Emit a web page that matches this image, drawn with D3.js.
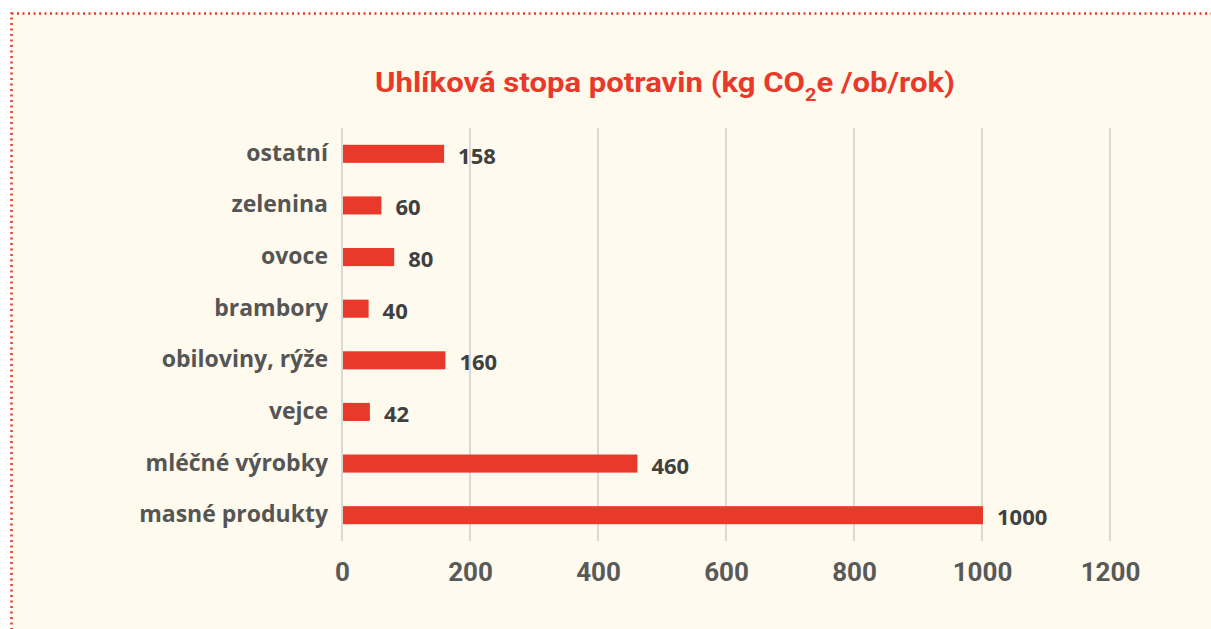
<!DOCTYPE html>
<html>
<head>
<meta charset="utf-8">
<script src="https://cdn.jsdelivr.net/npm/d3@7"></script>
<style>
  html, body { margin: 0; padding: 0; background: #fff; }
</style>
</head>
<body>
<div id="chart"></div>
<script>
const categories = ["ostatní", "zelenina", "ovoce", "brambory", "obiloviny, rýže", "vejce", "mléčné výrobky", "masné produkty"];
const values = [158, 60, 80, 40, 160, 42, 460, 1000];
const xTicks = [0, 200, 400, 600, 800, 1000, 1200];

const W = 1211, H = 629;
const margin = { top: 128, left: 342, right: 101, bottom: 88 };
const height = H - margin.top - margin.bottom;

const svg = d3.select("#chart").append("svg")
  .attr("width", W).attr("height", H);

// cream panel with dotted red border
svg.append("rect")
  .attr("x", 11.5).attr("y", 13.5)
  .attr("width", W).attr("height", H)
  .attr("fill", "#fffaee")
  .attr("stroke", "#e8392a")
  .attr("stroke-width", 2.5)
  .attr("stroke-dasharray", "2,3.5");

const title = svg.append("text")
  .attr("x", 665).attr("y", 92)
  .attr("text-anchor", "middle")
  .style("font-family", "Roboto")
  .style("font-weight", 700)
  .style("font-size", "28px")
  .style("fill", "#e8392a")
  .attr("textLength", 580)
  .attr("lengthAdjust", "spacingAndGlyphs");
title.append("tspan").text("Uhlíková stopa potravin (kg CO");
title.append("tspan").attr("dy", 9).style("font-size", "18px").text("2");
title.append("tspan").attr("dy", -9).text("e /ob/rok)");

const g = svg.append("g").attr("transform", `translate(${margin.left},${margin.top})`);

const x = d3.scaleLinear().domain([0, 1200]).range([0, 768]);
const y = d3.scaleBand().domain(categories).range([0, 413]).paddingInner(0.65).paddingOuter(0.325);

g.append("g").selectAll("line")
  .data(xTicks)
  .enter().append("line")
  .attr("x1", d => x(d)).attr("x2", d => x(d))
  .attr("y1", 0).attr("y2", 413)
  .attr("stroke", "#d9d9d9")
  .attr("stroke-width", 2);

g.selectAll("rect.bar")
  .data(values)
  .enter().append("rect")
  .attr("class", "bar")
  .attr("x", x(0) + 1)
  .attr("y", (d, i) => y(categories[i]))
  .attr("width", d => x(d) - x(0))
  .attr("height", y.bandwidth())
  .attr("fill", "#e8392a");

g.selectAll("text.val")
  .data(values)
  .enter().append("text")
  .attr("class", "val")
  .attr("x", d => x(d) + 15)
  .attr("y", (d, i) => y(categories[i]) + y.bandwidth() / 2 + 10)
  .style("font-family", "Open Sans")
  .style("font-weight", 700)
  .style("font-size", "22px")
  .style("fill", "#404040")
  .text(d => d);

g.selectAll("text.cat")
  .data(categories)
  .enter().append("text")
  .attr("class", "cat")
  .attr("x", -14)
  .attr("y", d => y(d) + y.bandwidth() / 2 + 7)
  .attr("text-anchor", "end")
  .style("font-family", "Open Sans")
  .style("font-weight", 700)
  .style("font-size", "23px")
  .style("fill", "#555")
  .text(d => d);

const xAxis = g.append("g")
  .attr("transform", `translate(0,${413})`)
  .call(d3.axisBottom(x).tickValues(xTicks).tickSize(0).tickPadding(22).tickFormat(d3.format("d")));
xAxis.select(".domain").remove();
xAxis.selectAll("text")
  .style("font-family", "Roboto")
  .style("font-weight", 700)
  .style("font-size", "26px")
  .style("fill", "#595959");
</script>
</body>
</html>
